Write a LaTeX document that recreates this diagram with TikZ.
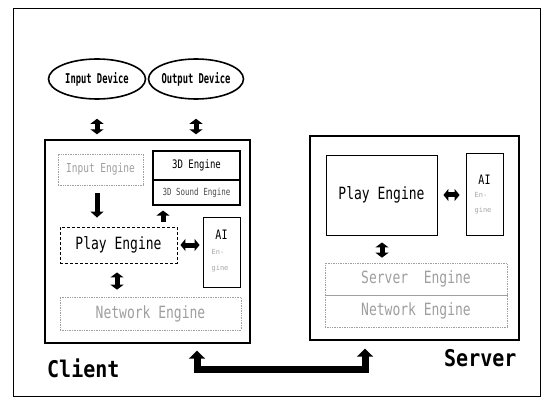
\documentclass[tikz,border=0pt]{standalone}
\usepackage{fontspec}
\usepackage{graphicx}
\setmonofont{DejaVu Sans Mono}
\usetikzlibrary{arrows.meta,shapes.geometric}
\newcommand\tallt[1]{\scalebox{1}[1.3]{#1}}
\begin{document}
\begin{tikzpicture}[x=1pt,y=-1pt,font=\ttfamily,
  bigbox/.style={draw,line width=1.4pt,inner sep=0},
  solidbox/.style={draw,line width=0.9pt,inner sep=0},
  faintbox/.style={draw=gray!75,densely dotted,line width=0.7pt,inner sep=0,text=gray!75},
  dev/.style={ellipse,draw,line width=1.6pt,inner sep=0},
  devtxt/.style={inner sep=0,font=\ttfamily\bfseries\fontsize{10}{12}\selectfont},
  blk/.style={line width=5pt,-{Triangle[width=13pt,length=6pt]}},
  dblk/.style={line width=5pt,{Triangle[width=13pt,length=5pt]}-{Triangle[width=13pt,length=5pt]}},
  hblk/.style={line width=5pt,{Triangle[width=12pt,length=5pt]}-{Triangle[width=12pt,length=5pt]}},
  conn/.style={line width=7pt,{Triangle[width=16pt,length=8pt]}-{Triangle[width=16pt,length=8pt]}},
  lbl/.style={font=\ttfamily\bfseries\fontsize{20}{22}\selectfont,inner sep=0,anchor=west}]
\fill[white] (0,0) rectangle (545,403);
\useasboundingbox (0,0) rectangle (545,403);
% outer frame
\draw[line width=1pt] (13,9) rectangle (540,396);

% devices
\node[dev,minimum width=97pt,minimum height=40pt] (indev) at (97,79) {};
\node[devtxt] (indevtxt) at (indev.center) {\scalebox{0.88}[1.35]{Input Device}};
\node[dev,minimum width=95pt,minimum height=40pt] (outdev) at (196,79) {};
\node[devtxt] (outdevtxt) at (outdev.center) {\scalebox{0.88}[1.35]{Output Device}};

% client
\node[bigbox,minimum width=205pt,minimum height=203pt] (client) at (147.5,241.5) {};
\node[faintbox,minimum width=85pt,minimum height=31pt,font=\ttfamily\fontsize{9.5}{11}\selectfont] (inputeng) at (100.5,169.5) {\tallt{Input Engine}};
\node[solidbox,line width=1.2pt,minimum width=87pt,minimum height=29pt,font=\ttfamily\fontsize{9}{11}\selectfont] (threed) at (196.5,165.5) {\tallt{3D Engine}};
\node[solidbox,line width=1.2pt,minimum width=87pt,minimum height=25pt,font=\ttfamily\fontsize{7.5}{9}\selectfont,text=gray!60!black] (sound) at (196.5,192.5) {\tallt{3D Sound Engine}};
\node[solidbox,densely dashed,minimum width=117pt,minimum height=36pt,font=\ttfamily\fontsize{13}{15}\selectfont] (playeng) at (118.5,245) {\tallt{Play Engine}};
\node[solidbox,minimum width=37pt,minimum height=70pt] (ai) at (221.5,252) {};
\node[inner sep=0,font=\ttfamily\fontsize{10}{12}\selectfont] (aitxt) at (221.5,235) {\tallt{AI}};
\node[inner sep=0,align=left,text=gray!70,font=\ttfamily\fontsize{7}{16}\selectfont] (aisub) at (220,261) {En-\\gine};
\node[faintbox,minimum width=181pt,minimum height=33pt,font=\ttfamily\fontsize{13}{15}\selectfont] (neteng) at (150.5,313.5) {\tallt{Network Engine}};

% server
\node[bigbox,minimum width=209pt,minimum height=204pt] (server) at (414.5,238) {};
\node[solidbox,minimum width=111pt,minimum height=80pt,font=\ttfamily\fontsize{13}{15}\selectfont] (splay) at (381.5,195) {\tallt{Play Engine}};
\node[solidbox,minimum width=37pt,minimum height=82pt] (sai) at (484.5,194) {};
\node[inner sep=0,font=\ttfamily\fontsize{10}{12}\selectfont] (saitxt) at (484.5,180) {\tallt{AI}};
\node[inner sep=0,align=left,text=gray!70,font=\ttfamily\fontsize{7}{15}\selectfont] (saisub) at (483,203) {En-\\gine};
\node[faintbox,minimum width=182pt,minimum height=32pt,font=\ttfamily\fontsize{13}{15}\selectfont] (sserv) at (416,279) {\tallt{Server\ \ Engine}};
\node[faintbox,minimum width=182pt,minimum height=32pt,font=\ttfamily\fontsize{13}{15}\selectfont] (snet) at (416,311) {\tallt{Network Engine}};

% labels
\node[lbl] (clientlbl) at (47,368) {\scalebox{1}[1.15]{Client}};
\node[lbl] (serverlbl) at (444,358) {\scalebox{1}[1.15]{Server}};

% arrows
\coordinate (c3x) at (163,0);
\coordinate (cinx) at (97,0);
\coordinate (cpx) at (117,0);
\coordinate (cl) at (197,0);
\coordinate (sv) at (365,0);
\coordinate (bot) at (0,369);
\coordinate (sy) at (0,195);
\coordinate (ssx) at (382,0);

\draw[dblk,shorten <=19pt,shorten >=5pt] (indev.south) -- (indev.south |- client.north);
\draw[dblk,shorten <=19pt,shorten >=5pt] (outdev.south) -- (outdev.south |- client.north);
\draw[blk,shorten <=8pt,shorten >=9pt] (inputeng.south -| cinx) -- (playeng.north -| cinx);
\draw[line width=5pt,-{Triangle[width=13pt,length=5pt]},shorten <=5pt,shorten >=5pt] (playeng.north -| c3x) -- (sound.south -| c3x);
\draw[hblk,shorten <=3pt,shorten >=3pt] (playeng.east) -- (playeng.east -| ai.west);
\draw[dblk,shorten <=9pt,shorten >=7pt] (playeng.south -| cpx) -- (neteng.north -| cpx);
\draw[hblk,shorten <=6pt,shorten >=6pt] (splay.east |- sy) -- (sai.west |- sy);
\draw[dblk,shorten <=7pt,shorten >=5pt] (splay.south -| ssx) -- (sserv.north -| ssx);
\draw[conn,shorten <=7pt,shorten >=8pt] (client.south -| cl) -- (cl |- bot) -- (sv |- bot) -- (server.south -| sv);
\end{tikzpicture}
\end{document}
